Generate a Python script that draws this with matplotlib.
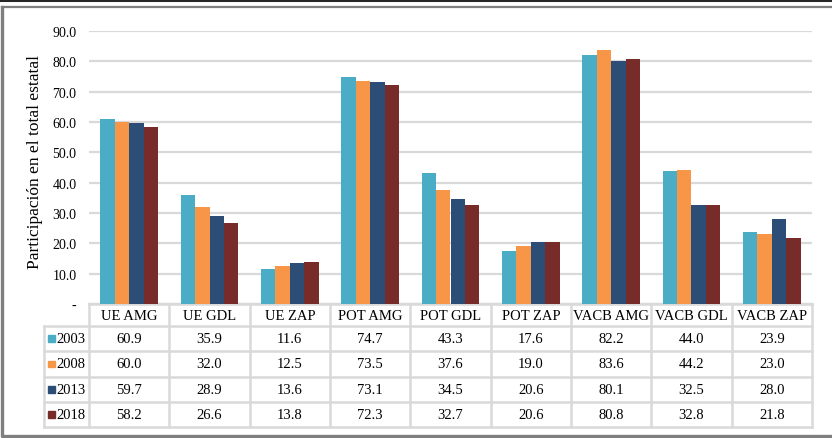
import matplotlib.pyplot as plt
from matplotlib.patches import Rectangle
import numpy as np

plt.rcParams['font.family'] = ['Liberation Serif', 'DejaVu Serif']

categories = ["UE AMG", "UE GDL", "UE ZAP", "POT AMG", "POT GDL", "POT ZAP",
              "VACB AMG", "VACB GDL", "VACB ZAP"]
years = ["2003", "2008", "2013", "2018"]
v2003 = [60.9, 35.9, 11.6, 74.7, 43.3, 17.6, 82.2, 44.0, 23.9]
v2008 = [60.0, 32.0, 12.5, 73.5, 37.6, 19.0, 83.6, 44.2, 23.0]
v2013 = [59.7, 28.9, 13.6, 73.1, 34.5, 20.6, 80.1, 32.5, 28.0]
v2018 = [58.2, 26.6, 13.8, 72.3, 32.7, 20.6, 80.8, 32.8, 21.8]
series = [v2003, v2008, v2013, v2018]
colors = ["#4BACC6", "#F79646", "#2C4D75", "#772C2A"]
yticks = [0, 10, 20, 30, 40, 50, 60, 70, 80, 90]
ytick_labels = ["-"] + ["%.1f" % t for t in yticks[1:]]

W, H = 832, 439
fig = plt.figure(figsize=(W / 100, H / 100), dpi=100)
ax = fig.add_axes([89 / W, (H - 305) / H, (812 - 89) / W, (305 - 32) / H])

grid = "#D9D9D9"
x = np.arange(len(categories))
bw = 0.18
for i, (vals, c) in enumerate(zip(series, colors)):
    ax.bar(x + (i - 1.5) * bw, vals, bw, color=c, zorder=3)

ax.set_xlim(-0.5, len(categories) - 0.5)
ax.set_ylim(0, 90)
ax.set_yticks(yticks)
ax.set_yticklabels(ytick_labels, fontsize=10)
ax.set_xticks([])
ax.tick_params(axis="y", length=0, pad=9)
ax.grid(axis="y", color=grid, linewidth=1.6, zorder=0)
for s in ["top", "right", "left"]:
    ax.spines[s].set_visible(False)
ax.spines["bottom"].set_color(grid)
ax.spines["bottom"].set_linewidth(1.6)
ax.set_ylabel("Participación en el total estatal", fontsize=12.5)
ax.yaxis.set_label_coords(-(89 - 43) / 723.0, 0.5 + 6 / 273.0)

# data table under the plot (axes fraction coords)
def ay(py):
    return (305 - py) / 273.0

def ax_(px):
    return (px - 89) / 723.0

rows_py = [305, 327, 352, 378, 403, 428]
n = len(categories)
tr = ax.transAxes
lk = dict(color=grid, linewidth=1.8, transform=tr, clip_on=False, zorder=1)
# horizontal lines
ax.plot([0, 1], [ay(305), ay(305)], **lk)
for py in rows_py[1:]:
    ax.plot([ax_(44), 1], [ay(py), ay(py)], **lk)
# vertical lines
for k in range(n + 1):
    ax.plot([k / n, k / n], [ay(305), ay(428)], **lk)
ax.plot([ax_(44), ax_(44)], [ay(327), ay(428)], **lk)

for k, cat in enumerate(categories):
    ax.text((k + 0.5) / n, ay(316.5), cat, transform=tr, ha="center",
            va="center", fontsize=10.5)
for r, (yr, vals, c) in enumerate(zip(years, series, colors)):
    yc = ay((rows_py[r + 1] + rows_py[r + 2]) / 2)
    ax.add_patch(Rectangle((ax_(48), yc - 3.2 / 273), 6.5 / 723, 6.5 / 273,
                           transform=tr, color=c, clip_on=False))
    ax.text(ax_(56), yc, yr, transform=tr, ha="left", va="center", fontsize=10.5)
    for k, v in enumerate(vals):
        ax.text((k + 0.5) / n, yc, "%.1f" % v, transform=tr, ha="center",
                va="center", fontsize=10.5)

# frame around the chart (right edge falls outside the picture)
ft = fig.transFigure
fig.add_artist(plt.Line2D([0, 1], [1 - 1 / H, 1 - 1 / H], color="#262626",
                          linewidth=2.2, transform=ft))
fig.add_artist(plt.Line2D([1.5 / W, 1.5 / W, 1, ], [1 - 7.5 / H, 2 / H, 2 / H],
                          color="#7F7F7F", linewidth=2.4, transform=ft))
fig.add_artist(plt.Line2D([1.5 / W, 1], [1 - 7.5 / H, 1 - 7.5 / H],
                          color="#7F7F7F", linewidth=1.6, transform=ft))

fig.savefig("out.png", dpi=100)
